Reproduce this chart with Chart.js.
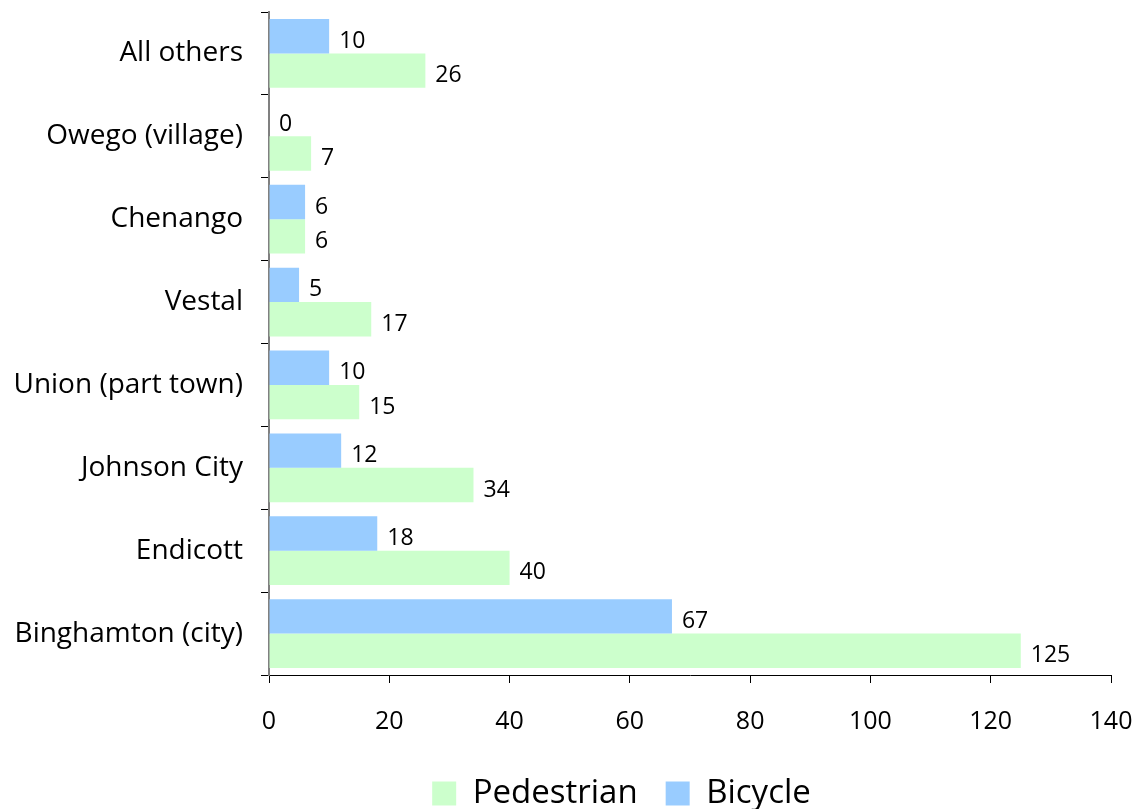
<!DOCTYPE html>
<html>
<head>
<meta charset="utf-8">
<script src="https://cdn.jsdelivr.net/npm/chart.js@4"></script>
<style>
  html, body { margin: 0; padding: 0; background: #fff; }
  .chart-container { position: relative; width: 1140px; height: 809px; }
</style>
</head>
<body>
<div class="chart-container"><canvas id="chart" width="1140" height="809"></canvas></div>
<script>
const CATEGORIES = ['All others', 'Owego (village)', 'Chenango', 'Vestal', 'Union (part town)', 'Johnson City', 'Endicott', 'Binghamton (city)'];
const BICYCLE = [10, 0, 6, 5, 10, 12, 18, 67];
const PEDESTRIAN = [26, 7, 6, 17, 15, 34, 40, 125];
const X_TICKS = [0, 20, 40, 60, 80, 100, 120, 140];

const FONT = "'Open Sans', 'Noto Sans', sans-serif";

// value labels just right of each bar end, nudged a bit below centre
const valueLabels = {
  id: 'valueLabels',
  afterDatasetsDraw(chart) {
    const ctx = chart.ctx;
    ctx.save();
    ctx.font = '23px ' + FONT;
    ctx.fillStyle = '#000';
    ctx.textAlign = 'left';
    ctx.textBaseline = 'middle';
    chart.data.datasets.forEach((ds, i) => {
      chart.getDatasetMeta(i).data.forEach((bar, j) => {
        ctx.fillText(String(ds.data[j]), bar.x + 10, bar.y + 5);
      });
    });
    ctx.restore();
  },
};

// original legend sits a little right of the canvas centre
const legendShift = {
  id: 'legendShift',
  afterLayout(chart) {
    if (chart.legend) {
      chart.legend.left += 66;
      chart.legend.right += 66;
    }
  },
};

new Chart(document.getElementById('chart'), {
  type: 'bar',
  data: {
    labels: CATEGORIES,
    datasets: [
      { label: 'Bicycle', data: BICYCLE, backgroundColor: '#99ccff' },
      { label: 'Pedestrian', data: PEDESTRIAN, backgroundColor: '#ccffcc' },
    ],
  },
  options: {
    indexAxis: 'y',
    responsive: false,
    animation: false,
    devicePixelRatio: 1,
    // negative bottom padding pushes the legend down close to the edge like the original
    layout: { padding: { top: 12, right: 29, left: 0, bottom: -11 } },
    datasets: { bar: { categoryPercentage: 0.83, barPercentage: 1.0 } },
    scales: {
      x: {
        min: 0,
        max: 140,
        afterBuildTicks(scale) {
          scale.ticks = X_TICKS.map(v => ({ value: v }));
        },
        afterFit(scale) {
          scale.height = 74;
          scale.paddingLeft = 0;
          scale.paddingRight = 0;
        },
        border: { color: '#000', width: 1 },
        grid: { drawOnChartArea: false, tickLength: 8, color: '#000' },
        ticks: { color: '#000', padding: 24, font: { family: FONT, size: 25 } },
      },
      y: {
        afterFit(scale) {
          scale.width = 269;
          scale.paddingTop = 0;
          scale.paddingBottom = 0;
        },
        border: { color: '#808080', width: 2 },
        grid: { drawOnChartArea: false, tickLength: 8, color: '#000', offset: true },
        ticks: { color: '#000', padding: 18, font: { family: FONT, size: 28 } },
      },
    },
    plugins: {
      legend: {
        position: 'bottom',
        reverse: true,
        labels: {
          color: '#000',
          boxWidth: 24,
          boxHeight: 24,
          padding: 28,
          font: { family: FONT, size: 33 },
        },
      },
      tooltip: { enabled: false },
    },
  },
  plugins: [valueLabels, legendShift],
});
</script>
</body>
</html>
